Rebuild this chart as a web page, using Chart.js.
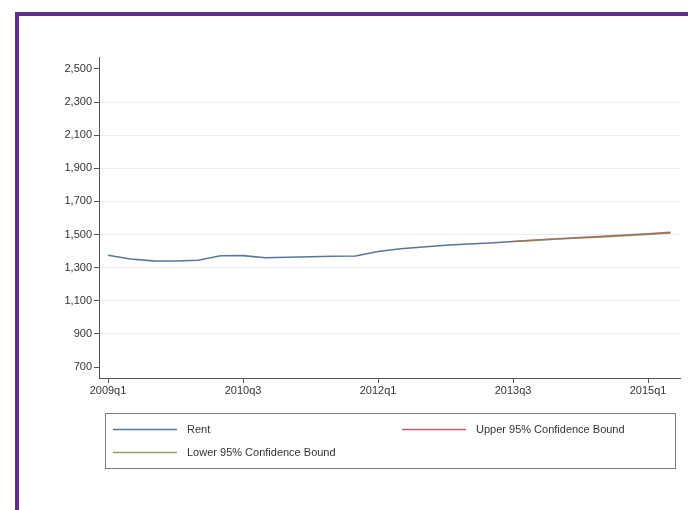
<!DOCTYPE html>
<html>
<head>
<meta charset="utf-8">
<script src="https://cdn.jsdelivr.net/npm/chart.js@4"></script>
<style>
    html, body { margin: 0; padding: 0; background: #fff; overflow: hidden; }
    #wrap { position: relative; width: 688px; height: 510px; }
    #chart { position: absolute; left: 0; top: 0; }
    #frame {
        position: absolute; left: 15px; top: 12px; width: 800px; height: 600px;
        border-left: 4px solid #5e2f8f; border-top: 4px solid #5e2f8f;
        pointer-events: none;
    }
</style>
</head>
<body>
<div id="wrap">
    <canvas id="chart" width="688" height="510"></canvas>
    <div id="frame"></div>
</div>
<script>
// Quarters on the x axis (index = position on the axis)
const quarters = [
    '2009q1', '2009q2', '2009q3', '2009q4',
    '2010q1', '2010q2', '2010q3', '2010q4',
    '2011q1', '2011q2', '2011q3', '2011q4',
    '2012q1', '2012q2', '2012q3', '2012q4',
    '2013q1', '2013q2', '2013q3', '2013q4',
    '2014q1', '2014q2', '2014q3', '2014q4',
    '2015q1', '2015q2'
];

// Observed rent, 2009q1 .. 2013q3
const rent = [1375, 1352, 1341, 1340, 1345, 1372, 1373, 1360, 1363, 1366,
              1369, 1371, 1398, 1414, 1425, 1435, 1443, 1449, 1458];

// Forecast bounds, 2013q3 .. 2015q2
const boundQuarters = ['2013q3', '2013q4', '2014q1', '2014q2', '2014q3', '2014q4', '2015q1', '2015q2'];
const upperBound = [1458, 1467, 1475, 1482, 1489, 1497, 1505, 1513];
const lowerBound = [1458, 1465, 1473, 1479, 1486, 1493, 1501, 1509];

const xTickLabels = ['2009q1', '2010q3', '2012q1', '2013q3', '2015q1'];
const yTicks = [700, 900, 1100, 1300, 1500, 1700, 1900, 2100, 2300, 2500];

const seriesLabels = ['Rent', 'Upper 95% Confidence Bound', 'Lower 95% Confidence Bound'];
const seriesColors = ['#5a7796', '#c25c70', '#93a06a'];

function toPoints(labels, values) {
    return values.map((v, i) => ({ x: quarters.indexOf(labels[i]), y: v }));
}

// Stata-like boxed legend, two columns
const boxLegend = {
    id: 'boxLegend',
    afterDraw(chart) {
        const ctx = chart.ctx;
        const slots = [{ x: 113, y: 429 }, { x: 402, y: 429 }, { x: 113, y: 452 }];
        ctx.save();
        ctx.strokeStyle = '#7a7a7a';
        ctx.lineWidth = 1;
        ctx.strokeRect(105.5, 413.5, 570, 55);
        ctx.font = '11px "Liberation Sans", Arial, sans-serif';
        ctx.textBaseline = 'middle';
        chart.data.datasets.forEach((ds, i) => {
            const s = slots[i];
            ctx.strokeStyle = seriesColors[i];
            ctx.lineWidth = 1.5;
            ctx.beginPath();
            ctx.moveTo(s.x, s.y + 0.5);
            ctx.lineTo(s.x + 64, s.y + 0.5);
            ctx.stroke();
            ctx.fillStyle = '#333';
            ctx.fillText(ds.label, s.x + 74, s.y + 1);
        });
        ctx.restore();
    }
};

const ctx = document.getElementById('chart').getContext('2d');
new Chart(ctx, {
    type: 'line',
    data: {
        datasets: [
            {
                label: seriesLabels[0],
                data: toPoints(quarters, rent),
                borderColor: seriesColors[0],
                borderWidth: 1.6,
                pointRadius: 0,
                tension: 0,
                order: 2
            },
            {
                label: seriesLabels[1],
                data: toPoints(boundQuarters, upperBound),
                borderColor: seriesColors[1],
                borderWidth: 1.6,
                pointRadius: 0,
                tension: 0,
                order: 1
            },
            {
                label: seriesLabels[2],
                data: toPoints(boundQuarters, lowerBound),
                borderColor: 'rgba(120, 135, 80, 0.75)',
                borderWidth: 1.6,
                pointRadius: 0,
                tension: 0,
                order: 0
            }
        ]
    },
    options: {
        responsive: false,
        animation: false,
        layout: { padding: { left: 0, right: 8, top: 57, bottom: 0 } },
        plugins: {
            legend: { display: false },
            tooltip: { enabled: false }
        },
        scales: {
            x: {
                type: 'linear',
                min: -0.4,
                max: 25.42,
                afterBuildTicks: scale => {
                    scale.ticks = xTickLabels.map(l => ({ value: quarters.indexOf(l) }));
                },
                afterFit: scale => { scale.height = 132; },
                ticks: {
                    callback: v => quarters[v],
                    color: '#333',
                    font: { family: '"Liberation Sans", Arial, sans-serif', size: 11 },
                    padding: 1,
                    maxRotation: 0
                },
                grid: {
                    drawOnChartArea: false,
                    drawTicks: true,
                    tickLength: 5,
                    tickColor: '#555'
                },
                border: { display: true, color: '#555', width: 1 }
            },
            y: {
                type: 'linear',
                min: 634,
                max: 2572,
                afterBuildTicks: scale => {
                    scale.ticks = yTicks.map(v => ({ value: v }));
                },
                afterFit: scale => { scale.width = 99; },
                ticks: {
                    callback: v => v.toLocaleString('en-US'),
                    color: '#333',
                    font: { family: '"Liberation Sans", Arial, sans-serif', size: 11 },
                    padding: 2
                },
                grid: {
                    color: c => (c.tick && (c.tick.value === 700 || c.tick.value === 2500)) ? 'rgba(0,0,0,0)' : '#ececec',
                    lineWidth: 1,
                    drawTicks: true,
                    tickLength: 5,
                    tickColor: '#555'
                },
                border: { display: true, color: '#555', width: 1 }
            }
        }
    },
    plugins: [boxLegend]
});
</script>
</body>
</html>
